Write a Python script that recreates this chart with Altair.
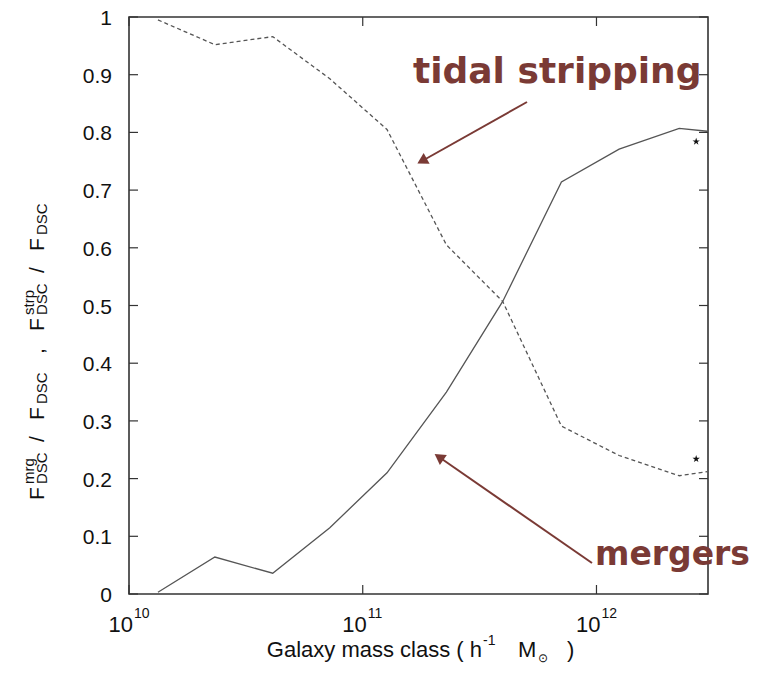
import altair as alt
import pandas as pd

# ---- data ----
mass = [1.33e10, 2.33e10, 4.12e10, 7.23e10, 1.27e11, 2.28e11, 3.97e11, 7.08e11, 1.25e12, 2.26e12, 2.98e12]
mergers = [0.003, 0.064, 0.036, 0.115, 0.21, 0.35, 0.507, 0.714, 0.771, 0.807, 0.802]
stripping = [0.995, 0.952, 0.966, 0.893, 0.805, 0.605, 0.507, 0.291, 0.240, 0.205, 0.212]
star_mass = [2.67e12, 2.67e12]
star_frac = [0.784, 0.234]
y_ticks = [0, 0.1, 0.2, 0.3, 0.4, 0.5, 0.6, 0.7, 0.8, 0.9, 1.0]
y_labels = ["0", "0.1", "0.2", "0.3", "0.4", "0.5", "0.6", "0.7", "0.8", "0.9", "1"]
x_ticks = [1e10, 1e11, 1e12]
x_exponents = ["10", "11", "12"]

W, H = 579, 577
TOP = 9
OFF = 14 - (8 + TOP)  # shift for absolute-positioned texts (plot-relative y)
FONT = "Liberation Sans"
ANN = "#7a3a35"
LINE = "#555555"
STAR = ("M0,-1L0.2245,-0.309L0.9511,-0.309L0.3633,0.118L0.5878,0.809L0,0.382"
        "L-0.5878,0.809L-0.3633,0.118L-0.9511,-0.309L-0.2245,-0.309Z")

xscale = alt.Scale(type="log", domain=[1e10, 3e12], nice=False)
yscale = alt.Scale(domain=[0, 1], nice=False, zero=False)

df = pd.DataFrame({"mass": mass, "mergers": mergers, "stripping": stripping})
stars = pd.DataFrame({"mass": star_mass, "frac": star_frac})
yt = pd.DataFrame({"v": y_ticks, "lab": y_labels})
xt = pd.DataFrame({"m": x_ticks, "e": x_exponents})
one = pd.DataFrame({"a": [0]})

base = alt.Chart(df)

merg_line = base.mark_line(color=LINE, strokeWidth=1.3).encode(
    x=alt.X("mass:Q", scale=xscale, axis=None),
    y=alt.Y("mergers:Q", scale=yscale, axis=None),
)
strp_line = base.mark_line(color=LINE, strokeWidth=1.3, strokeDash=[4, 3]).encode(
    x=alt.X("mass:Q", scale=xscale, axis=None),
    y=alt.Y("stripping:Q", scale=yscale, axis=None),
)
star_pts = alt.Chart(stars).mark_point(shape=STAR, filled=True, size=60, color="#111", opacity=1).encode(
    x=alt.X("mass:Q", scale=xscale, axis=None),
    y=alt.Y("frac:Q", scale=yscale, axis=None),
)

# inward ticks on all four sides
tk = dict(color="#333", strokeWidth=1.2)
yl = alt.Chart(yt).mark_rule(**tk).encode(y=alt.Y("v:Q", scale=yscale, axis=None), x=alt.value(0), x2=alt.value(9))
yr = alt.Chart(yt).mark_rule(**tk).encode(y=alt.Y("v:Q", scale=yscale, axis=None), x=alt.value(W - 9), x2=alt.value(W))
xb = alt.Chart(xt).mark_rule(**tk).encode(x=alt.X("m:Q", scale=xscale, axis=None), y=alt.value(H - 9), y2=alt.value(H))
xtp = alt.Chart(xt).mark_rule(**tk).encode(x=alt.X("m:Q", scale=xscale, axis=None), y=alt.value(0), y2=alt.value(9))

# y tick labels
ylab = alt.Chart(yt).mark_text(font=FONT, fontSize=21, align="right", baseline="middle", dy=2, color="#111").encode(
    y=alt.Y("v:Q", scale=yscale, axis=None), x=alt.value(-17), text="lab:N")

# x tick labels 10^n
xlab_base = alt.Chart(xt).mark_text(font=FONT, fontSize=22, align="right", dx=4, baseline="alphabetic", color="#111").encode(
    x=alt.X("m:Q", scale=xscale, axis=None), y=alt.value(618 + OFF), text=alt.value("10"))
xlab_exp = alt.Chart(xt).mark_text(font=FONT, fontSize=14, align="left", dx=5, baseline="alphabetic", color="#111").encode(
    x=alt.X("m:Q", scale=xscale, axis=None), y=alt.value(604 + OFF), text="e:N")


def txt(s, x, y, size, angle=0, align="left", font=FONT, weight="normal", color="#111"):
    props = dict(font=font, fontSize=size, align=align, baseline="alphabetic", color=color, fontWeight=weight)
    if angle:
        props["angle"] = angle
    return alt.Chart(one).mark_text(**props).encode(x=alt.value(x), y=alt.value(y + OFF), text=alt.value(s))


# x-axis title
xtitle = [
    txt("Galaxy mass class ( h", 353, 643, 22, align="right"),
    txt("-1", 354, 631, 14),
    txt("M", 389, 643, 22),
    txt("\u2299", 409, 648, 12),
    txt(")", 438, 643, 22),
]

# y-axis title (rotated pieces)
XF, XSUB, XSUP = -85, -82, -95
ytitle = [
    txt("F", XF, 486, 21, 270),
    txt("DSC", XSUB, 470, 15, 270),
    txt("mrg", XSUP, 470, 15, 270),
    txt("/", XF, 428, 21, 270),
    txt("F", XF, 406, 21, 270),
    txt("DSC", XSUB, 390, 15, 270),
    txt(",", XF, 340, 21, 270),
    txt("F", XF, 317, 21, 270),
    txt("DSC", XSUB, 301, 15, 270),
    txt("strp", XSUP, 301, 15, 270),
    txt("/", XF, 259, 21, 270),
    txt("F", XF, 237, 21, 270),
    txt("DSC", XSUB, 221, 15, 270),
]


def pv(v):
    return alt.value(v + OFF)


# annotations
ann = [
    txt("tidal stripping", 284, 69, 36, font="DejaVu Sans", weight="bold", color=ANN),
    txt("mergers", 466, 551, 33, font="DejaVu Sans", weight="bold", color=ANN),
    alt.Chart(one).mark_rule(color=ANN, strokeWidth=2).encode(
        x=alt.value(398), y=pv(88), x2=alt.value(293), y2=pv(147)),
    alt.Chart(one).mark_point(shape="triangle-up", filled=True, size=150, angle=240.8, color=ANN, opacity=1).encode(
        x=alt.value(293), y=pv(147)),
    alt.Chart(one).mark_rule(color=ANN, strokeWidth=2).encode(
        x=alt.value(463), y=pv(549), x2=alt.value(310), y2=pv(443)),
    alt.Chart(one).mark_point(shape="triangle-up", filled=True, size=150, angle=304.8, color=ANN, opacity=1).encode(
        x=alt.value(310), y=pv(443)),
]

chart = alt.layer(
    merg_line, strp_line, star_pts, yl, yr, xb, xtp, ylab, xlab_base, xlab_exp, *xtitle, *ytitle, *ann
).properties(
    width=W, height=H,
    background="white",
    autosize=alt.AutoSizeParams(type="none"),
    padding={"left": 121, "top": TOP, "right": 41, "bottom": 72},
).configure_view(stroke="#333", strokeWidth=1.6)

chart.save("out.html", embed_options={"renderer": "svg", "actions": False})
